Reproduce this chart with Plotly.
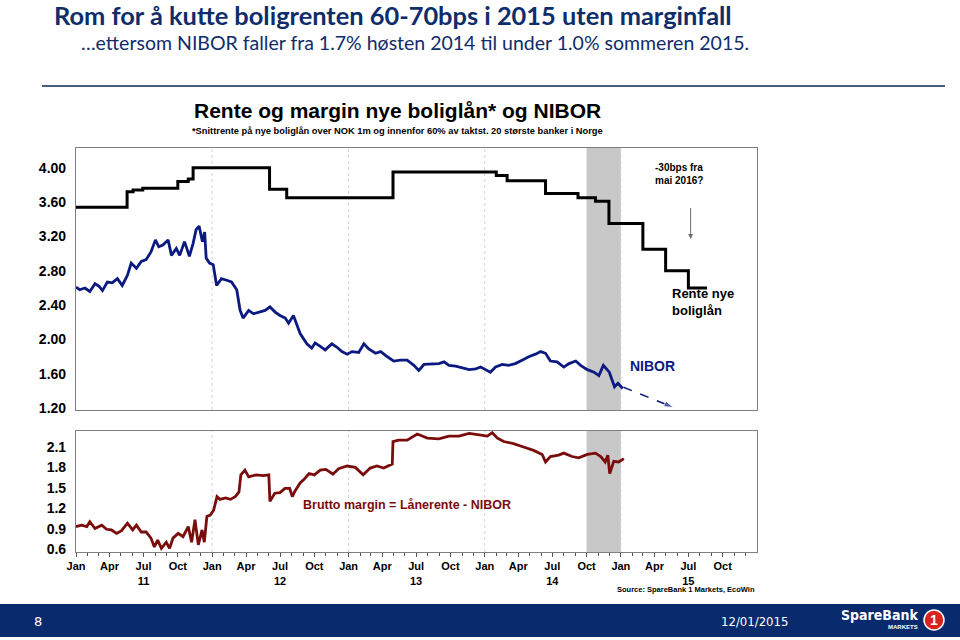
import plotly.graph_objects as go
from plotly.subplots import make_subplots
import pandas as pd

# ---------------- data ----------------
nibor_dates = [
    "2011-01-01", "2011-01-11", "2011-01-25", "2011-02-07", "2011-02-21", "2011-03-04", "2011-03-13",
    "2011-03-26", "2011-04-08", "2011-04-22", "2011-05-05", "2011-05-19", "2011-05-29", "2011-06-12",
    "2011-06-25", "2011-07-08", "2011-07-21", "2011-08-02", "2011-08-11", "2011-08-22", "2011-09-05",
    "2011-09-14", "2011-09-27", "2011-10-06", "2011-10-19", "2011-11-01", "2011-11-11", "2011-11-19",
    "2011-11-27", "2011-12-06", "2011-12-12", "2011-12-16", "2011-12-25", "2012-01-04", "2012-01-13",
    "2012-01-26", "2012-02-09", "2012-02-22", "2012-03-07", "2012-03-16", "2012-03-24", "2012-04-08",
    "2012-04-21", "2012-05-09", "2012-05-22", "2012-06-04", "2012-06-18", "2012-07-01", "2012-07-15",
    "2012-07-24", "2012-08-06", "2012-08-24", "2012-09-11", "2012-09-24", "2012-10-03", "2012-10-17",
    "2012-10-30", "2012-11-17", "2012-12-01", "2012-12-14", "2012-12-28", "2013-01-10", "2013-01-28",
    "2013-02-11", "2013-02-24", "2013-03-14", "2013-03-28", "2013-04-15", "2013-05-02", "2013-05-20",
    "2013-06-07", "2013-06-25", "2013-07-08", "2013-07-22", "2013-08-13", "2013-08-31", "2013-09-14",
    "2013-09-27", "2013-10-15", "2013-11-02", "2013-11-20", "2013-12-08", "2013-12-21", "2014-01-03",
    "2014-01-16", "2014-01-30", "2014-02-17", "2014-03-06", "2014-03-24", "2014-04-11", "2014-04-29",
    "2014-05-17", "2014-05-31", "2014-06-13", "2014-06-26", "2014-07-14", "2014-08-01", "2014-08-15",
    "2014-09-02", "2014-09-15", "2014-10-03", "2014-10-21", "2014-11-03", "2014-11-15", "2014-12-01",
    "2014-12-15", "2014-12-24", "2015-01-06",
]
nibor_values = [
    2.61, 2.58, 2.60, 2.56, 2.65, 2.62, 2.57,
    2.67, 2.66, 2.71, 2.63, 2.75, 2.89, 2.83,
    2.91, 2.93, 3.02, 3.16, 3.08, 3.10, 3.16,
    2.98, 3.06, 2.98, 3.14, 2.97, 3.12, 3.28,
    3.32, 3.14, 3.25, 2.95, 2.89, 2.87, 2.63,
    2.71, 2.69, 2.67, 2.58, 2.34, 2.25, 2.34,
    2.30, 2.32, 2.34, 2.38, 2.32, 2.28, 2.25,
    2.19, 2.28, 2.07, 1.95, 1.90, 1.96, 1.92,
    1.88, 1.95, 1.91, 1.86, 1.83, 1.86, 1.85,
    1.95, 1.89, 1.84, 1.86, 1.80, 1.75, 1.76,
    1.76, 1.70, 1.64, 1.71, 1.72, 1.72, 1.74,
    1.70, 1.69, 1.67, 1.65, 1.66, 1.68, 1.65,
    1.62, 1.68, 1.71, 1.70, 1.72, 1.76, 1.80,
    1.83, 1.86, 1.84, 1.75, 1.74, 1.68, 1.72,
    1.75, 1.70, 1.65, 1.62, 1.58, 1.70, 1.62,
    1.45, 1.49, 1.43,
]

nibor_fc_dates = ["2015-01-08", "2015-05-22"]
nibor_fc_values = [1.445, 1.21]

rente_dates = [
    "2011-01-01", "2011-05-18", "2011-06-03", "2011-06-29", "2011-10-01", "2011-10-29", "2011-11-11",
    "2012-06-03", "2012-07-19", "2013-04-30", "2014-02-01", "2014-03-02", "2014-06-13", "2014-09-08",
    "2014-10-25", "2014-11-30", "2015-03-01", "2015-05-01", "2015-07-01", "2015-08-20",
]
rente_values = [
    3.54, 3.72, 3.74, 3.76, 3.84, 3.87, 4.00,
    3.75, 3.65, 3.95, 3.91, 3.85, 3.70, 3.65,
    3.61, 3.35, 3.05, 2.80, 2.60, 2.60,
]

margin_dates = [
    "2011-01-01", "2011-01-16", "2011-01-30", "2011-02-07", "2011-02-21", "2011-03-11", "2011-03-24",
    "2011-04-06", "2011-04-20", "2011-05-03", "2011-05-19", "2011-06-02", "2011-06-12", "2011-06-25",
    "2011-07-08", "2011-07-21", "2011-07-30", "2011-08-08", "2011-08-18", "2011-08-31", "2011-09-09",
    "2011-09-18", "2011-10-02", "2011-10-15", "2011-10-29", "2011-11-07", "2011-11-16", "2011-11-25",
    "2011-12-05", "2011-12-11", "2011-12-18", "2011-12-27", "2012-01-05", "2012-01-14", "2012-01-22",
    "2012-02-06", "2012-02-19", "2012-03-03", "2012-03-13", "2012-03-18", "2012-03-29", "2012-04-08",
    "2012-04-28", "2012-05-17", "2012-06-01", "2012-06-04", "2012-06-17", "2012-07-01", "2012-07-14",
    "2012-07-27", "2012-08-03", "2012-08-10", "2012-08-24", "2012-09-03", "2012-09-17", "2012-10-01",
    "2012-10-17", "2012-11-01", "2012-11-20", "2012-12-05", "2012-12-28", "2013-01-19", "2013-02-09",
    "2013-02-28", "2013-03-18", "2013-04-05", "2013-04-28", "2013-04-30", "2013-05-15", "2013-06-07",
    "2013-07-04", "2013-07-31", "2013-08-31", "2013-09-27", "2013-10-24", "2013-11-20", "2013-12-13",
    "2014-01-08", "2014-01-21", "2014-02-04", "2014-02-21", "2014-03-19", "2014-04-15", "2014-05-12",
    "2014-06-04", "2014-06-13", "2014-06-26", "2014-07-18", "2014-08-01", "2014-08-23", "2014-09-10",
    "2014-10-03", "2014-10-25", "2014-11-08", "2014-11-20", "2014-11-27", "2014-12-02", "2014-12-13",
    "2014-12-26", "2015-01-09",
]
margin_values = [
    0.93, 0.95, 0.93, 1.00, 0.90, 0.95, 0.89,
    0.88, 0.83, 0.87, 0.98, 0.88, 0.95, 0.85,
    0.85, 0.76, 0.63, 0.73, 0.61, 0.70, 0.61,
    0.76, 0.83, 0.78, 0.93, 0.70, 1.03, 0.66,
    0.88, 0.70, 1.08, 1.10, 1.17, 1.37, 1.33,
    1.35, 1.33, 1.37, 1.44, 1.69, 1.76, 1.66,
    1.69, 1.68, 1.69, 1.30, 1.42, 1.43, 1.49,
    1.49, 1.37, 1.45, 1.57, 1.62, 1.71, 1.69,
    1.76, 1.77, 1.70, 1.78, 1.82, 1.80, 1.69,
    1.79, 1.82, 1.79, 1.85, 2.18, 2.20, 2.20,
    2.29, 2.23, 2.22, 2.26, 2.26, 2.30, 2.28,
    2.26, 2.31, 2.23, 2.18, 2.15, 2.10, 2.05,
    1.99, 1.88, 1.96, 1.98, 2.01, 1.96, 1.94,
    1.99, 2.01, 1.96, 1.88, 1.98, 1.71, 1.89,
    1.88, 1.93,
]

shade_start, shade_end = "2014-10-01", "2015-01-01"
grid_years = ["2012-01-01", "2013-01-01", "2014-01-01", "2015-01-01"]
x_range = ["2011-01-01", "2016-01-01"]

quarter_ticks = pd.date_range("2011-01-01", "2015-10-01", freq="QS")
month_names = {1: "Jan", 4: "Apr", 7: "Jul", 10: "Oct"}
tick_text = [month_names[d.month] + ("<br>" + str(d.year)[2:] if d.month == 7 else "") for d in quarter_ticks]
minor_ticks = pd.date_range("2011-01-01", "2015-12-01", freq="MS")

upper_ticks = [1.2, 1.6, 2.0, 2.4, 2.8, 3.2, 3.6, 4.0]
lower_ticks = [0.6, 0.9, 1.2, 1.5, 1.8, 2.1]

# ---------------- colours / fonts ----------------
NAVY = "#0B1A80"
DARKRED = "#7A0C0C"
TITLE_BLUE = "#0F2C6B"
FOOT_BLUE = "#0A2A6E"
ARIAL = "Liberation Sans, Arial, sans-serif"
NARROW = "Liberation Sans Narrow, Arial Narrow, Liberation Sans, sans-serif"
CAL = "Lato, Carlito, Calibri, sans-serif"

W, H = 960, 640
def px(x):
    return x / W
def py(y):
    return 1 - y / H

fig = make_subplots(rows=2, cols=1, shared_xaxes=True, vertical_spacing=0.02)

fig.add_trace(go.Scatter(x=rente_dates, y=rente_values, mode="lines", line=dict(color="black", width=3, shape="hv"),
                         showlegend=False, hoverinfo="skip"), row=1, col=1)
fig.add_trace(go.Scatter(x=nibor_dates, y=nibor_values, mode="lines", line=dict(color=NAVY, width=2.8),
                         showlegend=False, hoverinfo="skip"), row=1, col=1)
fig.add_trace(go.Scatter(x=nibor_fc_dates, y=nibor_fc_values, mode="lines+markers",
                         line=dict(color=NAVY, width=1.5, dash="dash"),
                         marker=dict(symbol="arrow", angleref="previous", size=[0, 10], color=NAVY),
                         showlegend=False, hoverinfo="skip"), row=1, col=1)
fig.add_trace(go.Scatter(x=margin_dates, y=margin_values, mode="lines", line=dict(color=DARKRED, width=2.8),
                         showlegend=False, hoverinfo="skip"), row=2, col=1)

# shading and year grid
for yref in ["y domain", "y2 domain"]:
    xref = "x" if yref.startswith("y ") else "x2"
    fig.add_shape(type="rect", xref=xref, yref=yref, x0=shade_start, x1=shade_end, y0=0, y1=1,
                  fillcolor="#C8C8C8", line_width=0, layer="below")
    for g in grid_years:
        fig.add_shape(type="line", xref=xref, yref=yref, x0=g, x1=g, y0=0, y1=1,
                      line=dict(color="#D4D4D4", width=1, dash="dot"), layer="below")

axis_common = dict(showline=True, linecolor="#7F7F7F", linewidth=1.2, mirror=True, showgrid=False,
                   zeroline=False, automargin=False)
fig.update_xaxes(range=x_range, **axis_common)
fig.update_xaxes(domain=[px(76), px(757)], showticklabels=False, ticks="", row=1, col=1)
fig.update_xaxes(domain=[px(76), px(757)], tickmode="array", tickvals=quarter_ticks, ticktext=tick_text,
                 ticks="outside", ticklen=4, tickcolor="#555555",
                 tickfont=dict(family=ARIAL, size=11, color="black", weight="bold"),
                 minor=dict(tickmode="array", tickvals=minor_ticks, ticks="outside", ticklen=3, tickcolor="#555555"),
                 row=2, col=1)
fig.update_yaxes(domain=[py(410), py(148)], range=[1.18, 4.23], tickmode="array", tickvals=upper_ticks,
                 ticktext=[f"{v:.2f}" for v in upper_ticks], ticks="", ticklabelstandoff=6,
                 tickfont=dict(family=ARIAL, size=14, color="black", weight="bold"), row=1, col=1, **axis_common)
fig.update_yaxes(domain=[py(552), py(431)], range=[0.556, 2.335], tickmode="array", tickvals=lower_ticks,
                 ticktext=[f"{v:.1f}" for v in lower_ticks], ticks="", ticklabelstandoff=6,
                 tickfont=dict(family=ARIAL, size=14, color="black", weight="bold"), row=2, col=1, **axis_common)

ann = []
# headers
ann.append(dict(xref="paper", yref="paper", x=px(52), y=py(15), xanchor="left", yanchor="middle",
                text="<b>Rom for å kutte boligrenten 60-70bps i 2015 uten marginfall</b>",
                font=dict(family=CAL, size=25.4, color=TITLE_BLUE), showarrow=False))
ann.append(dict(xref="paper", yref="paper", x=px(79), y=py(43), xanchor="left", yanchor="middle",
                text="…ettersom NIBOR faller fra 1.7% høsten 2014 til under 1.0% sommeren 2015.",
                font=dict(family=CAL, size=19.5, color=TITLE_BLUE), showarrow=False))
ann.append(dict(xref="paper", yref="paper", x=px(397), y=py(110), xanchor="center", yanchor="middle",
                text="<b>Rente og margin nye boliglån* og NIBOR</b>",
                font=dict(family=NARROW, size=21, color="black"), showarrow=False))
ann.append(dict(xref="paper", yref="paper", x=px(397), y=py(131), xanchor="center", yanchor="middle",
                text="<b>*Snittrente på nye boliglån over NOK 1m og innenfor 60% av taktst. 20 største banker i Norge</b>",
                font=dict(family=NARROW, size=9.3, color="black"), showarrow=False))
ann.append(dict(xref="paper", yref="paper", x=px(757), y=py(589), xanchor="right", yanchor="middle",
                text="<b>Source: SpareBank 1 Markets, EcoWin</b>",
                font=dict(family=NARROW, size=7.5, color="black"), showarrow=False))
# chart labels
ann.append(dict(xref="x", yref="y", x="2015-03-28", y=3.93, xanchor="left", yanchor="middle", align="left",
                text="<b>-30bps fra<br>mai 2016?</b>", font=dict(family=ARIAL, size=10, color="black"),
                showarrow=False))
ann.append(dict(xref="x", yref="y", x="2015-07-07", y=3.17, axref="x", ayref="y", ax="2015-07-07", ay=3.55,
                text="", showarrow=True, arrowhead=2, arrowsize=1, arrowwidth=1, arrowcolor="#6E6E6E"))
ann.append(dict(xref="x", yref="y", x="2015-05-12", y=2.44, xanchor="left", yanchor="middle", align="left",
                text="<b>Rente nye<br>boliglån</b>", font=dict(family=ARIAL, size=13, color="black"),
                showarrow=False))
ann.append(dict(xref="x", yref="y", x="2015-01-20", y=1.69, xanchor="left", yanchor="middle",
                text="<b>NIBOR</b>", font=dict(family=ARIAL, size=14, color=NAVY), showarrow=False))
ann.append(dict(xref="x2", yref="y2", x="2012-08-27", y=1.25, xanchor="left", yanchor="middle",
                text="<b>Brutto margin = Lånerente - NIBOR</b>", font=dict(family=ARIAL, size=12.5, color=DARKRED),
                showarrow=False))
# footer
ann.append(dict(xref="paper", yref="paper", x=px(38), y=py(621), xanchor="center", yanchor="middle",
                text="8", font=dict(family="DejaVu Sans", size=13, color="white"), showarrow=False))
ann.append(dict(xref="paper", yref="paper", x=px(754), y=py(621), xanchor="center", yanchor="middle",
                text="12/01/2015", font=dict(family="DejaVu Sans Condensed, DejaVu Sans", size=13, color="white"),
                showarrow=False))
ann.append(dict(xref="paper", yref="paper", x=px(920), y=py(615), xanchor="right", yanchor="middle",
                text="<b>SpareBank</b>", font=dict(family="DejaVu Sans Condensed, DejaVu Sans", size=14, color="white"),
                showarrow=False))
ann.append(dict(xref="paper", yref="paper", x=px(920), y=py(627), xanchor="right", yanchor="middle",
                text="<b>MARKETS</b>", font=dict(family=ARIAL, size=6, color="white"), showarrow=False))
ann.append(dict(xref="paper", yref="paper", x=px(934), y=py(620), xanchor="center", yanchor="middle",
                text="<b>1</b>", font=dict(family=ARIAL, size=14, color="white"), showarrow=False))

shapes_extra = [
    dict(type="line", xref="paper", yref="paper", x0=px(42), x1=px(945), y0=py(86), y1=py(86),
         line=dict(color="#4A5B7C", width=2)),
    dict(type="rect", xref="paper", yref="paper", x0=0, x1=1, y0=py(637), y1=py(604),
         fillcolor=FOOT_BLUE, line_width=0),
    dict(type="circle", xref="paper", yref="paper", x0=px(924), x1=px(944), y0=py(630), y1=py(610),
         fillcolor="#D9231D", line=dict(color="white", width=1.5)),
]
for s in shapes_extra:
    fig.add_shape(**s)

fig.update_layout(width=W, height=H, autosize=False, margin=dict(l=0, r=0, t=0, b=0),
                  paper_bgcolor="white", plot_bgcolor="white", annotations=ann, showlegend=False)

fig.write_html("out.html", config={"displayModeBar": False},
               post_script="document.body.style.margin='0';document.body.style.overflow='hidden';")
